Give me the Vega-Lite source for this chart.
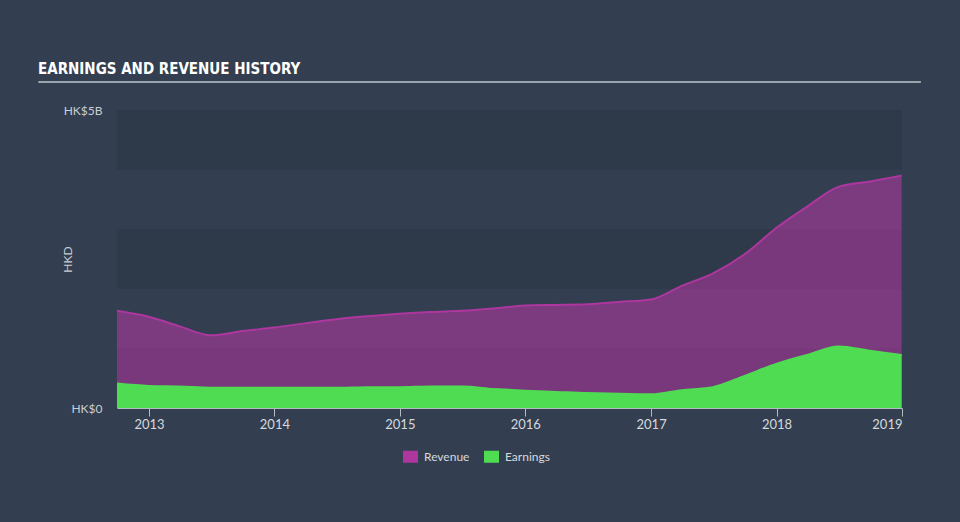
{
  "$schema": "https://vega.github.io/schema/vega-lite/v6.json",
  "width": 785,
  "height": 298,
  "autosize": {"type": "none"},
  "padding": {"left": 117, "top": 110, "right": 58, "bottom": 114},
  "background": "#333f50",
  "config": {"view": {"stroke": null}, "font": "Lato"},
  "title": {
    "text": "EARNINGS AND REVENUE HISTORY",
    "anchor": "start",
    "frame": "group",
    "dx": -79,
    "dy": 44,
    "offset": 36,
    "baseline": "alphabetic",
    "font": "DejaVu Sans Condensed",
    "fontSize": 15,
    "fontWeight": "bold",
    "color": "#ffffff"
  },
  "datasets": {
    "series": [
      {"date": "2012-09-30", "series": "Revenue", "value": 1630000000},
      {"date": "2012-12-31", "series": "Revenue", "value": 1530000000},
      {"date": "2013-03-31", "series": "Revenue", "value": 1370000000},
      {"date": "2013-06-30", "series": "Revenue", "value": 1220000000},
      {"date": "2013-09-30", "series": "Revenue", "value": 1290000000},
      {"date": "2013-12-31", "series": "Revenue", "value": 1350000000},
      {"date": "2014-03-31", "series": "Revenue", "value": 1420000000},
      {"date": "2014-06-30", "series": "Revenue", "value": 1490000000},
      {"date": "2014-09-30", "series": "Revenue", "value": 1540000000},
      {"date": "2014-12-31", "series": "Revenue", "value": 1580000000},
      {"date": "2015-03-31", "series": "Revenue", "value": 1610000000},
      {"date": "2015-06-30", "series": "Revenue", "value": 1630000000},
      {"date": "2015-09-30", "series": "Revenue", "value": 1670000000},
      {"date": "2015-12-31", "series": "Revenue", "value": 1720000000},
      {"date": "2016-03-31", "series": "Revenue", "value": 1730000000},
      {"date": "2016-06-30", "series": "Revenue", "value": 1740000000},
      {"date": "2016-09-30", "series": "Revenue", "value": 1780000000},
      {"date": "2016-12-31", "series": "Revenue", "value": 1820000000},
      {"date": "2017-03-31", "series": "Revenue", "value": 2050000000},
      {"date": "2017-06-30", "series": "Revenue", "value": 2260000000},
      {"date": "2017-09-30", "series": "Revenue", "value": 2580000000},
      {"date": "2017-12-31", "series": "Revenue", "value": 3020000000},
      {"date": "2018-03-31", "series": "Revenue", "value": 3380000000},
      {"date": "2018-06-30", "series": "Revenue", "value": 3710000000},
      {"date": "2018-09-30", "series": "Revenue", "value": 3800000000},
      {"date": "2018-12-31", "series": "Revenue", "value": 3900000000},
      {"date": "2012-09-30", "series": "Earnings", "value": 410000000},
      {"date": "2012-12-31", "series": "Earnings", "value": 370000000},
      {"date": "2013-03-31", "series": "Earnings", "value": 360000000},
      {"date": "2013-06-30", "series": "Earnings", "value": 340000000},
      {"date": "2013-09-30", "series": "Earnings", "value": 340000000},
      {"date": "2013-12-31", "series": "Earnings", "value": 340000000},
      {"date": "2014-03-31", "series": "Earnings", "value": 340000000},
      {"date": "2014-06-30", "series": "Earnings", "value": 340000000},
      {"date": "2014-09-30", "series": "Earnings", "value": 350000000},
      {"date": "2014-12-31", "series": "Earnings", "value": 350000000},
      {"date": "2015-03-31", "series": "Earnings", "value": 360000000},
      {"date": "2015-06-30", "series": "Earnings", "value": 360000000},
      {"date": "2015-09-30", "series": "Earnings", "value": 320000000},
      {"date": "2015-12-31", "series": "Earnings", "value": 290000000},
      {"date": "2016-03-31", "series": "Earnings", "value": 270000000},
      {"date": "2016-06-30", "series": "Earnings", "value": 250000000},
      {"date": "2016-09-30", "series": "Earnings", "value": 240000000},
      {"date": "2016-12-31", "series": "Earnings", "value": 230000000},
      {"date": "2017-03-31", "series": "Earnings", "value": 300000000},
      {"date": "2017-06-30", "series": "Earnings", "value": 350000000},
      {"date": "2017-09-30", "series": "Earnings", "value": 540000000},
      {"date": "2017-12-31", "series": "Earnings", "value": 740000000},
      {"date": "2018-03-31", "series": "Earnings", "value": 890000000},
      {"date": "2018-06-30", "series": "Earnings", "value": 1030000000},
      {"date": "2018-09-30", "series": "Earnings", "value": 960000000},
      {"date": "2018-12-31", "series": "Earnings", "value": 890000000}
    ],
    "bands": [
      {"lo": 0, "hi": 1000000000},
      {"lo": 2000000000, "hi": 3000000000},
      {"lo": 4000000000, "hi": 5000000000}
    ],
    "underline": [
      {"start": "2012-02-14", "end": "2019-02-25", "level": 5470000000}
    ]
  },
  "encoding": {
    "x": {
      "field": "date",
      "type": "temporal",
      "scale": {
        "type": "utc",
        "domain": [
          {"year": 2012, "month": 9, "date": 30, "utc": true},
          {"year": 2019, "month": 1, "date": 1, "utc": true}
        ]
      },
      "axis": {
        "title": null,
        "values": [
          {"year": 2013, "utc": true},
          {"year": 2014, "utc": true},
          {"year": 2015, "utc": true},
          {"year": 2016, "utc": true},
          {"year": 2017, "utc": true},
          {"year": 2018, "utc": true},
          {"year": 2019, "utc": true}
        ],
        "format": "%Y",
        "grid": false,
        "domainColor": "#b4bac2",
        "tickColor": "#b4bac2",
        "tickSize": 8,
        "labelPadding": 2,
        "labelFlush": true,
        "labelColor": "#d5d9de",
        "labelFontSize": 13
      }
    }
  },
  "layer": [
    {
      "data": {"name": "bands"},
      "mark": {"type": "rect", "color": "#2e3a49"},
      "encoding": {
        "x": null,
        "y": {
          "field": "lo",
          "type": "quantitative",
          "scale": {"domain": [0, 5000000000], "nice": false},
          "axis": {
            "values": [0, 5000000000],
            "labelExpr": "datum.value == 0 ? 'HK$0' : 'HK$5B'",
            "ticks": false,
            "domain": false,
            "grid": false,
            "labelPadding": 15,
            "labelColor": "#c9ced4",
            "labelFontSize": 12,
            "title": "HKD",
            "titleColor": "#c9ced4",
            "titleFontSize": 12,
            "titleFontWeight": "normal",
            "titleX": -50,
            "titleY": 149,
            "titleAngle": -90,
            "titleAlign": "center",
            "titleBaseline": "middle"
          }
        },
        "y2": {"field": "hi"}
      }
    },
    {
      "data": {"name": "underline"},
      "mark": {"type": "rule", "color": "#9ba3ad", "strokeWidth": 2, "clip": false},
      "encoding": {
        "x": {"field": "start", "type": "temporal"},
        "x2": {"field": "end"},
        "y": {"field": "level", "type": "quantitative"}
      }
    },
    {
      "data": {"name": "series"},
      "transform": [{"filter": "datum.series === 'Revenue'"}],
      "mark": {"type": "area", "interpolate": "monotone", "fillOpacity": 0.6, "line": {"strokeWidth": 2}},
      "encoding": {
        "y": {"field": "value", "type": "quantitative", "stack": null},
        "color": {
          "field": "series",
          "type": "nominal",
          "scale": {"domain": ["Revenue", "Earnings"], "range": ["#ad379f", "#4fdc52"]},
          "legend": {
            "orient": "none",
            "legendX": 286,
            "legendY": 339,
            "direction": "horizontal",
            "title": null,
            "symbolType": "M-1,-0.8H1V0.8H-1Z",
            "symbolSize": 225,
            "symbolOpacity": 1,
            "symbolStrokeWidth": 0,
            "labelColor": "#d5d9de",
            "labelFontSize": 12,
            "labelOffset": 6,
            "columnPadding": 14
          }
        }
      }
    },
    {
      "data": {"name": "series"},
      "transform": [{"filter": "datum.series === 'Earnings'"}],
      "mark": {"type": "area", "interpolate": "monotone", "fillOpacity": 1, "line": {"strokeWidth": 2}},
      "encoding": {
        "y": {"field": "value", "type": "quantitative", "stack": null},
        "color": {"field": "series", "type": "nominal"}
      }
    }
  ]
}
